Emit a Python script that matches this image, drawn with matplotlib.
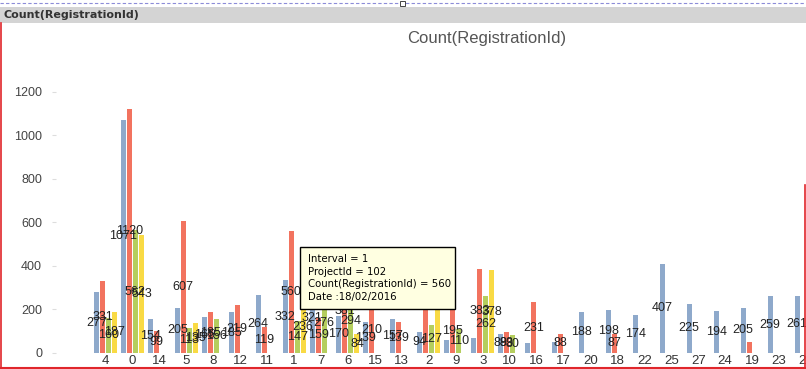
import matplotlib
matplotlib.use("Agg")
import matplotlib.pyplot as plt
from matplotlib.patches import Rectangle
from matplotlib.lines import Line2D
import numpy as np

categories = ["4", "0", "14", "5", "8", "12", "11", "1", "7", "6", "15", "13", "2", "9",
              "3", "10", "16", "17", "20", "18", "22", "25", "27", "24", "19", "23", "21"]
series_blue = [277, 1071, 154, 205, 165, 185, 264, 332, 321, 170, 139, 157, 94, 58,
               69, 88, 45, 50, 188, 198, 174, 407, 225, 194, 205, 259, 261]
series_red = [331, 1120, 99, 607, 185, 219, 119, 560, 159, 381, 210, 139, 480, 195,
              383, 93, 231, 88, 0, 87, 0, 0, 0, 0, 48, 0, 0]
series_green = [160, 562, 0, 113, 156, 0, 0, 147, 276, 294, 0, 0, 127, 110,
                262, 80, 0, 0, 0, 0, 0, 0, 0, 0, 0, 0, 0]
series_yellow = [187, 543, 0, 135, 0, 0, 0, 236, 0, 84, 0, 0, 424, 0,
                 378, 0, 0, 0, 0, 0, 0, 0, 0, 0, 0, 0, 0]
y_ticks = [0, 200, 400, 600, 800, 1000, 1200]
title = "Count(RegistrationId)"
tooltip_lines = ["Interval = 1", "ProjectId = 102", "Count(RegistrationId) = 560", "Date :18/02/2016"]

colors = ["#8EA9CB", "#F2735F", "#B5CE5E", "#F9DA44"]
FONT = "Liberation Sans"

W, H = 806, 369
fig = plt.figure(figsize=(W / 100, H / 100), dpi=100)
fig.patch.set_facecolor("white")

def fx(x):
    return x / W

def fy(y):
    return 1 - y / H

# axes geometry (pixels)
left_px, right_px = 56, 806
zero_px = 352.7
px_per_unit = (352.7 - 91.7) / 1200.0
ytop = 1250
top_px = zero_px - ytop * px_per_unit
ax = fig.add_axes([fx(left_px), fy(zero_px), fx(right_px) - fx(left_px), fy(top_px) - fy(zero_px)])
c0, step = 105.5, 26.96
ax.set_xlim((left_px - c0) / step, (right_px - c0) / step)
ax.set_ylim(0, ytop)

x = np.arange(len(categories))
bw = 5.0 / step
offs = [-9 / step, -3 / step, 3 / step, 9 / step]
allseries = [series_blue, series_red, series_green, series_yellow]
for s, off, col in zip(allseries, offs, colors):
    vals = np.array(s, dtype=float)
    bars = ax.bar(x + off, vals, width=bw, color=col, linewidth=0, zorder=2)
    labels = [str(int(v)) if v >= 75 else "" for v in vals]
    txts = ax.bar_label(bars, labels=labels, label_type="center", fontsize=9,
                        color="#222222", family=FONT, zorder=3)
    for t in txts:
        t.set_clip_on(True)

for sp in ax.spines.values():
    sp.set_visible(False)
ax.set_yticks(y_ticks)
ax.set_yticklabels([str(v) for v in y_ticks], family=FONT, fontsize=9, color="#444444")
ax.tick_params(axis="y", length=3, width=0.8, color="#dddddd", pad=7)
ax.set_xticks(x)
ax.set_xticklabels(categories, family=FONT, fontsize=9.5, color="#333333")
ax.tick_params(axis="x", length=0, pad=2)
ax.patch.set_alpha(0)

# header bar
fig.add_artist(Rectangle((0, fy(23)), 1, fy(7) - fy(23), transform=fig.transFigure,
                         facecolor="#D4D4D4", edgecolor="none", zorder=1))
fig.text(fx(3), fy(15), title, family="DejaVu Sans", fontsize=8, fontweight="bold",
         color="#333333", va="center", ha="left", zorder=6)
# dashed top line
fig.add_artist(Line2D([0, 1], [fy(2.5), fy(2.5)], transform=fig.transFigure,
                      color="#8C8CD8", linewidth=0.8, linestyle=(0, (3, 2)), zorder=6))
fig.add_artist(Rectangle((fx(400), fy(6)), fx(5), fy(1) - fy(6), transform=fig.transFigure,
                         facecolor="white", edgecolor="#444444", linewidth=0.7, zorder=7))
# chart title
fig.text(fx(487), fy(38), title, family=FONT, fontsize=12, color="#555555",
         ha="center", va="center", zorder=6)

# red borders
fig.add_artist(Line2D([fx(0.7), fx(0.7)], [fy(23), 0], transform=fig.transFigure,
                      color="#E0262B", linewidth=1.2, zorder=8))
fig.add_artist(Line2D([0, 1], [fy(368), fy(368)], transform=fig.transFigure,
                      color="#E0262B", linewidth=1.5, zorder=8))
fig.add_artist(Line2D([fx(805.3), fx(805.3)], [fy(185), 0], transform=fig.transFigure,
                      color="#E0262B", linewidth=1.2, zorder=8))

# tooltip
tx0, ty0, tx1, ty1 = 300, 247, 455, 309
fig.add_artist(Rectangle((fx(tx0), fy(ty1)), fx(tx1) - fx(tx0), fy(ty0) - fy(ty1),
                         transform=fig.transFigure, facecolor="#FFFFE1", edgecolor="black",
                         linewidth=1.0, zorder=9))
for i, line in enumerate(tooltip_lines):
    fig.text(fx(307.5), fy(259 + i * 12.6), line, family="DejaVu Sans", fontsize=7.3,
             color="black", ha="left", va="center", zorder=10)

fig.savefig("out.png", dpi=100, facecolor="white")
